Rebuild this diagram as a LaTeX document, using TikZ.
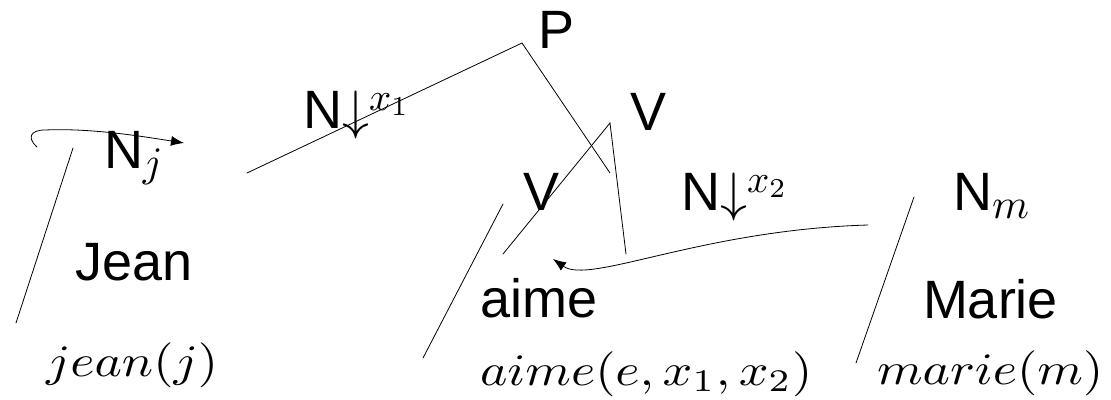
\RequirePackage{fix-cm}
\documentclass[tikz,border=0pt]{standalone}
\usepackage[no-math]{fontspec}
\setsansfont{Liberation Sans}
\usepackage{graphicx}
\usetikzlibrary{arrows.meta}
\newcommand{\bigsf}{\fontsize{54}{60}\selectfont\sffamily}
\newcommand{\smath}[2]{{\fontsize{10}{12}\selectfont\scalebox{#1}{$#2$}}}
\newcommand{\subm}[1]{\raisebox{-8.5pt}{\smath{4.2}{#1}}}
\newcommand{\supx}[1]{\raisebox{18pt}{\smath{3.9}{x_{#1}}}}
\newcommand{\mlab}[1]{{\fontsize{10}{12}\selectfont\scalebox{5.2}[4.5]{$#1$}}}
\begin{document}
\begin{tikzpicture}[x=1pt,y=-1pt,
  lbl/.style={anchor=base west, inner sep=0pt, outer sep=0pt, font=\bigsf},
  mlbl/.style={anchor=base west, inner sep=0pt, outer sep=0pt},
  ln/.style={line width=0.8pt, line cap=round},
  arr/.style={ln, -{Latex[length=13pt,width=10pt]}}]
\useasboundingbox (0,0) rectangle (1111,399);
% labels
\node[lbl] (P) at (538,48) {P};
\node[lbl] (Vt) at (630,130) {V};
\node[lbl] (Vb) at (523,210) {V};
\node[lbl] (Nx1) at (303,128) {N$\downarrow$\supx{1}};
\node[lbl] (Nj) at (104,168) {N\subm{j}};
\node[lbl] (Jean) at (75,280) {Jean};
\node[lbl] (Nx2) at (681,210) {N$\downarrow$\supx{2}};
\node[lbl] (Nm) at (953,210) {N\subm{m}};
\node[lbl] (aime) at (480,317) {aime};
\node[lbl] (Marie) at (923,318) {Marie};
\node[mlbl] (jeanj) at (46,376) {\mlab{jean(j)}};
\node[mlbl] (aimef) at (480,385) {\mlab{aime(e,x_1,x_2)}};
\node[mlbl] (mariem) at (877,384) {\mlab{marie(m)}};
% line end points
\coordinate (a1) at (247,173);
\coordinate (a2) at (522,43);
\coordinate (a3) at (610,173);
\coordinate (b1) at (503,254);
\coordinate (b2) at (610,123);
\coordinate (b3) at (626,254);
\coordinate (c1) at (503,204);
\coordinate (c2) at (423,358);
\coordinate (d1) at (914,197);
\coordinate (d2) at (856,363);
\coordinate (e1) at (73,148);
\coordinate (e2) at (16,323);
\coordinate (f0) at (37,147);
\coordinate (f1) at (45,130);
\coordinate (f2) at (184,143);
\coordinate (g0) at (868,225);
\coordinate (g1) at (553,259);
% lines
\draw[ln] (a1) -- (a2) -- (a3);
\draw[ln] (b1) -- (b2) -- (b3);
\draw[ln] (c1) -- (c2);
\draw[ln] (d1) -- (d2);
\draw[ln] (e1) -- (e2);
\draw[arr] (f0) .. controls (27,138) and (30,130) .. (f1)
  .. controls (90,128) and (140,136) .. (f2);
\draw[arr] (g0) .. controls (700,230) and (590,285) .. (g1);
\end{tikzpicture}
\end{document}
